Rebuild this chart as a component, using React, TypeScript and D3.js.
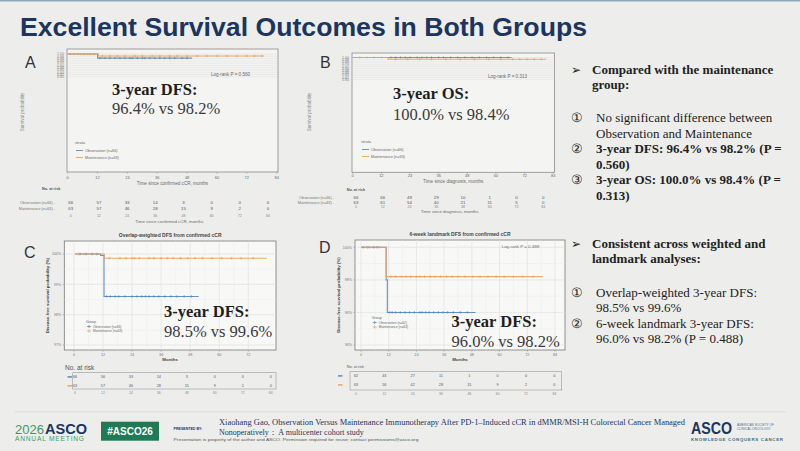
import * as React from 'react';
import * as d3 from 'd3';

type Pt = [number, number];

// ---- data ----
const monthTicks = [0, 12, 24, 36, 48, 60, 72, 84];
const groupNames = ['Observation (n=66)', 'Maintenance (n=63)'];
const groupNamesD = ['Observation (n=62)', 'Maintenance (n=63)'];

// A: DFS from confirmed cCR
const kmAObs: Pt[] = [[0, 1], [12, 0.964], [50, 0.964]];
const kmAMaint: Pt[] = [[0, 1], [12.3, 0.982], [79, 0.982]];
const censorAObs = [13, 15, 17, 19, 21, 23, 25, 26, 28, 30, 31, 33, 35, 37, 39, 41, 43, 46, 48];
const censorAMaint = [1, 2.5, 4, 5, 6.5, 8, 9, 10.5, 14, 17, 20, 23, 27, 30, 34, 37, 41, 44, 48, 52, 56, 60, 64, 68, 72, 75, 78];
const riskAObs = [66, 57, 33, 14, 3, 0, 0, 0];
const riskAMaint = [63, 57, 46, 28, 15, 9, 2, 0];

// B: OS from diagnosis
const kmBObs: Pt[] = [[0, 1], [66.5, 1]];
const kmBMaint: Pt[] = [[0, 1], [14.8, 0.984], [81, 0.984]];
const censorBObs = [16, 18, 20, 22, 24, 27, 29, 31, 33, 36, 38, 41, 44, 47, 50, 53, 56, 59, 62, 65];
const censorBMaint = [3, 6, 9, 12, 18, 23, 28, 33, 39, 45, 51, 57, 62, 67, 70, 73, 76, 79];
const riskBObs = [66, 66, 49, 29, 10, 1, 0, 0];
const riskBMaint = [63, 61, 54, 40, 21, 11, 5, 0];

// C: overlap-weighted DFS
const kmCObs: Pt[] = [[0.4, 1], [11, 0.9995], [12.4, 0.986], [51.5, 0.986]];
const kmCMaint: Pt[] = [[0.4, 1], [12.5, 0.9986], [79.6, 0.9986]];
const censorCObs = [2.5, 5, 7.5, 9.5, 13.5, 15, 17, 18.5, 21, 24, 26, 28, 29.5, 31, 33, 35, 37.5, 40, 42.5, 45.5, 48.5];
const censorCMaint = [2, 4, 14.5, 19, 21.5, 24, 25, 27, 31, 33, 36, 38.5, 41, 44, 47, 50, 53, 57, 61, 65, 69, 74];
const riskCObs = [66, 56, 33, 14, 3, 0, 0, 0];
const riskCMaint = [63, 57, 46, 28, 15, 9, 2, 0];
const yTicksC = [0.97, 0.98, 0.99, 1.0];

// D: 6-week landmark DFS
const kmDObs: Pt[] = [[0, 1], [10.9, 0.98], [11.4, 0.96], [49.6, 0.96]];
const kmDMaint: Pt[] = [[0, 1], [10.9, 0.982], [78.7, 0.982]];
const censorDObs = [1, 3, 5.5, 7, 12.5, 13.5, 15, 17, 19, 21, 23, 25.5, 26.5, 28, 29.5, 31.5, 33.5, 35.5, 37.5, 40, 43, 46];
const censorDMaint = [2.5, 4, 8, 13, 15, 17.5, 19.5, 21.5, 24, 25.5, 27.5, 30, 32, 34.5, 37, 39.5, 42, 45, 48.5, 51.5, 55, 58.5, 62, 66, 70, 74.5];
const riskDObs = [62, 43, 27, 11, 1, 0, 0, 0];
const riskDMaint = [63, 56, 42, 28, 15, 9, 2, 0];
const yTicksD = [0.94, 0.96, 0.98, 1.0];

const summaryA = ['3-year DFS:', '96.4% vs 98.2%'];
const summaryB = ['3-year OS:', '100.0% vs 98.4%'];
const summaryC = ['3-year DFS:', '98.5% vs 99.6%'];
const summaryD = ['3-year DFS:', '96.0% vs 98.2%'];

const bullets1 = [
  {mark: '➢', lines: ['Compared with the maintenance', 'group:'], bold: true},
  {mark: '①', lines: ['No significant difference between', 'Observation and Maintenance'], bold: false},
  {mark: '②', lines: ['3-year DFS: 96.4% vs 98.2% (P =', '0.560)'], bold: true},
  {mark: '③', lines: ['3-year OS: 100.0% vs 98.4% (P =', '0.313)'], bold: true},
];
const bullets2 = [
  {mark: '➢', lines: ['Consistent across weighted and', 'landmark analyses:'], bold: true},
  {mark: '①', lines: ['Overlap-weighted 3-year DFS:', '98.5% vs 99.6%'], bold: false},
  {mark: '②', lines: ['6-week landmark 3-year DFS:', '96.0% vs 98.2% (P = 0.488)'], bold: false},
];

// ---- styling ----
const BG = '#edeeec';
const BLUE = '#4f86c6';
const TEAL = '#5a8fb0';
const ORANGE = '#e6a25f';
const NAVY = '#1b3560';
const GREEN = '#1f7a55';
const SANS = 'Liberation Sans, Arial, sans-serif';
const SERIF = 'Liberation Serif, Times New Roman, serif';
const GRAY = '#6a6a6a';

type Lin = d3.ScaleLinear<number, number>;

const survAt = (pts: Pt[], t: number) => {
  let s = pts[0][1];
  pts.forEach(p => { if (p[0] <= t) s = p[1]; });
  return s;
};

const Curve = ({pts, censor, color, x, y, m}: {pts: Pt[], censor: number[], color: string, x: Lin, y: Lin, m: number}) => {
  const line = d3.line<Pt>().x(d => x(d[0])).y(d => y(d[1])).curve(d3.curveStepAfter);
  return (
    <g>
      <path d={line(pts) || ''} fill="none" stroke={color} strokeWidth={1.1} strokeOpacity={0.9}/>
      {censor.map((t, i) => {
        const cx = x(t), cy = y(survAt(pts, t));
        return <path key={i} d={`M${cx},${cy - m}v${2 * m}M${cx - m},${cy}h${2 * m}`} stroke={color} strokeWidth={0.6}/>;
      })}
    </g>
  );
};

const Headline = ({lines, x, y1, y2}: {lines: string[], x: number, y1: number, y2: number}) => (
  <g fontFamily={SERIF} fontSize={16.5}>
    <text x={x} y={y1} fontWeight="bold" fill="#1e1e1e">{lines[0]}</text>
    <text x={x} y={y2} fill="#3a3a3a">{lines[1]}</text>
  </g>
);

// survminer-style panels (A and B)
const StrataPanel = (p: {
  letter: string, lx: number, frame: number[], x: Lin, y: Lin,
  obs: Pt[], maint: Pt[], cObs: number[], cMaint: number[],
  pText: string, px: number, py: number, summary: string[], sx: number, sy1: number, sy2: number,
  legX: number, legY: number, xTitle: string, tickDy: number, xTitleY: number, yTitleX: number,
  riskX: Lin, rObs: number[], rMaint: number[], rLabelX: number, rY: number[], noX: number, noY: number,
}) => {
  const [fx0, fy0, fx1, fy1] = p.frame;
  const gridTicks = p.y.ticks(50).filter(t => t >= 0.8);
  const cx = (fx0 + fx1) / 2;
  return (
    <g fontFamily={SANS}>
      <text x={p.lx} y={68} fontSize={16} fill="#333">{p.letter}</text>
      <rect x={fx0} y={fy0} width={fx1 - fx0} height={fy1 - fy0} fill="#f4f4f2" stroke="#8a8a8a" strokeWidth={0.8}/>
      {gridTicks.map(t => (
        <g key={t}>
          <line x1={fx0} x2={fx1} y1={p.y(t)} y2={p.y(t)} stroke="#d6d6d6" strokeWidth={0.4}/>
          <text x={fx0 - 3} y={p.y(t) + 1.3} fontSize={3.6} textAnchor="end" fill="#888">{t.toFixed(2)}</text>
        </g>
      ))}
      {monthTicks.map(t => (
        <g key={t}>
          <line x1={p.x(t)} x2={p.x(t)} y1={fy1} y2={fy1 + 1.5} stroke="#888" strokeWidth={0.5}/>
          <text x={p.x(t)} y={fy1 + p.tickDy} fontSize={4} textAnchor="middle" fill={GRAY}>{t}</text>
        </g>
      ))}
      <text x={cx} y={p.xTitleY} fontSize={4.6} textAnchor="middle" fill={GRAY}>{p.xTitle}</text>
      <text transform={`translate(${p.yTitleX},112) rotate(-90)`} fontSize={4.6} textAnchor="middle" fill="#888">Survival probability</text>
      <Curve pts={p.obs} censor={p.cObs} color={TEAL} x={p.x} y={p.y} m={1.2}/>
      <Curve pts={p.maint} censor={p.cMaint} color={ORANGE} x={p.x} y={p.y} m={1.2}/>
      <text x={p.px} y={p.py} fontSize={4.6} fill={GRAY}>{p.pText}</text>
      <Headline lines={p.summary} x={p.sx} y1={p.sy1} y2={p.sy2}/>
      <text x={p.legX} y={p.legY} fontSize={4} fill={GRAY}>strata</text>
      {[TEAL, ORANGE].map((c, i) => (
        <g key={c}>
          <line x1={p.legX + 1} x2={p.legX + 8} y1={p.legY + 6.5 + i * 7} y2={p.legY + 6.5 + i * 7} stroke={c} strokeWidth={0.9}/>
          <text x={p.legX + 10} y={p.legY + 8 + i * 7} fontSize={3.8} fill={GRAY}>{groupNames[i]}</text>
        </g>
      ))}
      <text x={p.noX} y={p.noY} fontSize={3.8} fontWeight="bold" fill="#555">No. at risk</text>
      {[p.rObs, p.rMaint].map((row, i) => (
        <g key={i} fontSize={4.4} fill="#555">
          <text x={p.rLabelX} y={p.rY[i]} textAnchor="end" fontSize={3.8} fill="#777">{groupNames[i]} -</text>
          {row.map((v, j) => <text key={j} x={p.riskX(monthTicks[j])} y={p.rY[i]} textAnchor="middle">{v}</text>)}
        </g>
      ))}
      {monthTicks.map(t => <text key={t} x={p.riskX(t)} y={p.rY[2]} fontSize={3.6} textAnchor="middle" fill="#888">{t}</text>)}
      <text x={(p.riskX(0) + p.riskX(84)) / 2} y={p.rY[3]} fontSize={4.4} textAnchor="middle" fill={GRAY}>{p.xTitle}</text>
    </g>
  );
};

// ggplot-style panels (C and D)
const GGPanel = (p: {
  letter: string, lx: number, ly: number, title: string, frame: number[], x: Lin, y: Lin, xTicks: number[], yTicks: number[],
  obs: Pt[], maint: Pt[], cObs: number[], cMaint: number[], pText?: string, px?: number, py?: number,
  summary: string[], sx: number, sy1: number, sy2: number, legX: number, legY: number, names: string[],
  riskX: Lin, rObs: number[], rMaint: number[], riskBox: number[], noX: number, noY: number, noSize: number, dashX: number,
}) => {
  const [fx0, fy0, fx1, fy1] = p.frame;
  const cx = (fx0 + fx1) / 2;
  const minorX = p.xTicks.slice(0, -1).map((t, i) => (t + p.xTicks[i + 1]) / 2);
  const minorY = p.yTicks.slice(0, -1).map((t, i) => (t + p.yTicks[i + 1]) / 2);
  const [bx0, by0, bx1, by1] = p.riskBox;
  const rowY = [by0 + 5.5, by0 + 14.5];
  return (
    <g fontFamily={SANS}>
      <text x={p.lx} y={p.ly} fontSize={16} fill="#333">{p.letter}</text>
      <text x={cx} y={fy0 - 4} fontSize={5} fontWeight="bold" textAnchor="middle" fill="#444">{p.title}</text>
      <rect x={fx0} y={fy0} width={fx1 - fx0} height={fy1 - fy0} fill="#f8f8f7" stroke="#777" strokeWidth={0.8}/>
      {minorX.map(t => <line key={t} x1={p.x(t)} x2={p.x(t)} y1={fy0} y2={fy1} stroke="#ececec" strokeWidth={0.4}/>)}
      {minorY.map(t => <line key={t} x1={fx0} x2={fx1} y1={p.y(t)} y2={p.y(t)} stroke="#ececec" strokeWidth={0.4}/>)}
      {p.xTicks.map(t => (
        <g key={t}>
          <line x1={p.x(t)} x2={p.x(t)} y1={fy0} y2={fy1} stroke="#dedede" strokeWidth={0.6}/>
          <line x1={p.x(t)} x2={p.x(t)} y1={fy1} y2={fy1 + 1.5} stroke="#777" strokeWidth={0.5}/>
          <text x={p.x(t)} y={fy1 + 5.5} fontSize={3.8} textAnchor="middle" fill="#777">{t}</text>
        </g>
      ))}
      {p.yTicks.map(t => (
        <g key={t}>
          <line x1={fx0} x2={fx1} y1={p.y(t)} y2={p.y(t)} stroke="#dedede" strokeWidth={0.6}/>
          <line x1={fx0 - 1.5} x2={fx0} y1={p.y(t)} y2={p.y(t)} stroke="#777" strokeWidth={0.5}/>
          <text x={fx0 - 3} y={p.y(t) + 1.3} fontSize={3.6} textAnchor="end" fill="#777">{d3.format('.0%')(t)}</text>
        </g>
      ))}
      <text x={cx} y={fy1 + 11} fontSize={4.4} fontWeight="bold" textAnchor="middle" fill="#444">Months</text>
      <text transform={`translate(${fx0 - 15},${(fy0 + fy1) / 2}) rotate(-90)`} fontSize={4.4} fontWeight="bold" textAnchor="middle" fill="#444">Disease-free survival probability (%)</text>
      <Curve pts={p.obs} censor={p.cObs} color={BLUE} x={p.x} y={p.y} m={1.3}/>
      <Curve pts={p.maint} censor={p.cMaint} color={ORANGE} x={p.x} y={p.y} m={1.3}/>
      {p.pText && <text x={p.px} y={p.py} fontSize={4.4} fill={GRAY}>{p.pText}</text>}
      <text x={p.legX} y={p.legY} fontSize={3.6} fill="#666">Group</text>
      {[BLUE, ORANGE].map((c, i) => (
        <g key={c}>
          <path d={`M${p.legX + 1},${p.legY + 4 + i * 4.5}h4M${p.legX + 3},${p.legY + 2.5 + i * 4.5}v3`} stroke={c} strokeWidth={0.7}/>
          <text x={p.legX + 7} y={p.legY + 5.2 + i * 4.5} fontSize={3.3} fill="#666">{p.names[i]}</text>
        </g>
      ))}
      <Headline lines={p.summary} x={p.sx} y1={p.sy1} y2={p.sy2}/>
      <text x={p.noX} y={p.noY} fontSize={p.noSize} fill="#555">No. at risk</text>
      <rect x={bx0} y={by0} width={bx1 - bx0} height={by1 - by0} fill="none" stroke="#999" strokeWidth={0.6}/>
      {[p.rObs, p.rMaint].map((row, i) => (
        <g key={i} fontSize={3.8} fill="#555">
          <line x1={p.dashX} x2={p.dashX + 4.5} y1={rowY[i] - 1.3} y2={rowY[i] - 1.3} stroke={i ? ORANGE : BLUE} strokeWidth={1.4}/>
          {row.map((v, j) => <text key={j} x={p.riskX(monthTicks[j])} y={rowY[i]} textAnchor="middle">{v}</text>)}
        </g>
      ))}
      {monthTicks.map(t => <text key={t} x={p.riskX(t)} y={by1 + 5} fontSize={3.4} textAnchor="middle" fill="#888">{t}</text>)}
    </g>
  );
};

const Bullets = ({items, y0, gaps}: {items: typeof bullets1, y0: number, gaps: number[]}) => {
  let y = y0;
  return (
    <g fontFamily={SERIF} fontSize={13} fill="#222">
      {items.map((it, i) => {
        y += gaps[i];
        const yy = y;
        y += 15.5 * (it.lines.length - 1);
        const arrow = it.mark === '➢';
        return (
          <g key={i} fontWeight={it.bold ? 'bold' : 'normal'}>
            <text x={arrow ? 571 : 571} y={yy} fontSize={arrow ? 12 : 13} fontWeight={arrow ? 'bold' : 'normal'} fontFamily={arrow ? 'DejaVu Sans' : SERIF}>{it.mark}</text>
            {it.lines.map((l, j) => <text key={j} x={arrow ? 592 : 596} y={yy + j * 15.5}>{l}</text>)}
          </g>
        );
      })}
    </g>
  );
};

export default function App() {
  const xA = d3.scaleLinear().domain([0, 84]).range([67.7, 276.7]);
  const yA = d3.scaleLinear().domain([0, 1]).range([168, 54]);
  const rA = d3.scaleLinear().domain([0, 84]).range([70.7, 268]);

  const xB = d3.scaleLinear().domain([0, 84]).range([352.7, 553.3]);
  const yB = d3.scaleLinear().domain([0, 1]).range([168, 57.5]);
  const rB = d3.scaleLinear().domain([0, 84]).range([356, 543.3]);

  const xC = d3.scaleLinear().domain([0, 72]).range([74, 248.3]);
  const yC = d3.scaleLinear().domain([0.97, 1]).range([345, 254]);
  const rC = d3.scaleLinear().domain([0, 84]).range([75, 270.7]);

  const xD = d3.scaleLinear().domain([0, 84]).range([361, 555]);
  const yD = d3.scaleLinear().domain([0.94, 1]).range([345, 247.3]);
  const rD = d3.scaleLinear().domain([0, 84]).range([356, 554.3]);

  return (
    <svg width={800} height={451} viewBox="0 0 800 451" style={{position: 'absolute', left: 0, top: 0, background: BG}}>
      <rect x={0} y={0} width={800} height={451} fill={BG}/>
      <rect x={0} y={0} width={800} height={1.5} fill="#8ea7b8"/>
      <text x={20} y={36} fontFamily={SANS} fontWeight="bold" fontSize={26} fill={NAVY} textLength={567} lengthAdjust="spacingAndGlyphs">Excellent Survival Outcomes in Both Groups</text>

      <StrataPanel letter="A" lx={25} frame={[67, 49, 278, 172]} x={xA} y={yA}
        obs={kmAObs} maint={kmAMaint} cObs={censorAObs} cMaint={censorAMaint}
        pText="Log-rank P = 0.560" px={211} py={76} summary={summaryA} sx={112} sy1={95} sy2={114}
        legX={75} legY={144} xTitle="Time since confirmed cCR, months" tickDy={6.5} xTitleY={185} yTitleX={24}
        riskX={rA} rObs={riskAObs} rMaint={riskAMaint} rLabelX={55} rY={[204, 210, 216.5, 223]} noX={42} noY={190}/>

      <StrataPanel letter="B" lx={320} frame={[352, 53, 554.5, 172.3]} x={xB} y={yB}
        obs={kmBObs} maint={kmBMaint} cObs={censorBObs} cMaint={censorBMaint}
        pText="Log-rank P = 0.313" px={488} py={78} summary={summaryB} sx={393} sy1={99} sy2={120}
        legX={361} legY={143} xTitle="Time since diagnosis, months" tickDy={4.8} xTitleY={182.5} yTitleX={311}
        riskX={rB} rObs={riskBObs} rMaint={riskBMaint} rLabelX={334} rY={[198.5, 203.5, 208, 212.5]} noX={346.7} noY={191}/>

      <GGPanel letter="C" lx={24} ly={258} title="Overlap-weighted DFS from confirmed cCR" frame={[64.3, 241, 276, 350]}
        x={xC} y={yC} xTicks={[0, 12, 24, 36, 48, 60, 72]} yTicks={yTicksC}
        obs={kmCObs} maint={kmCMaint} cObs={censorCObs} cMaint={censorCMaint}
        summary={summaryC} sx={164} sy1={316.5} sy2={336.5} legX={86} legY={322.5} names={groupNames}
        riskX={rC} rObs={riskCObs} rMaint={riskCMaint} riskBox={[72.7, 372.7, 276, 389]} noX={65} noY={370} noSize={6.5} dashX={67.5}/>

      <GGPanel letter="D" lx={319} ly={253} title="6-week landmark DFS from confirmed cCR" frame={[355, 240, 565, 350]}
        x={xD} y={yD} xTicks={monthTicks} yTicks={yTicksD}
        obs={kmDObs} maint={kmDMaint} cObs={censorDObs} cMaint={censorDMaint}
        pText="Log-rank P = 0.488" px={501.7} py={247.5}
        summary={summaryD} sx={451.5} sy1={327} sy2={347} legX={371.7} legY={318.5} names={groupNamesD}
        riskX={rD} rObs={riskDObs} rMaint={riskDMaint} riskBox={[350, 371.7, 561.7, 390]} noX={346.7} noY={368} noSize={3.8} dashX={338}/>

      <Bullets items={bullets1} y0={73.5} gaps={[0, 33, 15.5, 15.5]}/>
      <Bullets items={bullets2} y0={247.5} gaps={[0, 33.5, 15.5]}/>

      {/* footer */}
      <line x1={15} x2={786} y1={411.7} y2={411.7} stroke="#d9d9d7" strokeWidth={0.8}/>
      <g fontFamily={SANS}>
        <text x={15} y={433.5} fontSize={13} fill="#3d9a5f">2026</text>
        <text x={45} y={433.5} fontSize={15} fontWeight="bold" fill={NAVY} textLength={42} lengthAdjust="spacingAndGlyphs">ASCO</text>
        <text x={15} y={440.5} fontSize={6.6} fill="#3d9a5f" textLength={69} lengthAdjust="spacing">ANNUAL MEETING</text>
        <rect x={101} y={421.7} width={58} height={19} fill={GREEN}/>
        <text x={130} y={434.8} fontSize={10} fontWeight="bold" fill="#fff" textAnchor="middle">#ASCO26</text>
        <text x={173.5} y={430} fontSize={3.6} fontWeight="bold" fill={NAVY}>PRESENTED BY:</text>
        <text x={173.5} y={440.5} fontSize={3.6} fill="#555" textLength={245} lengthAdjust="spacingAndGlyphs">Presentation is property of the author and ASCO. Permission required for reuse; contact permissions@asco.org</text>
        <text x={691} y={434} fontSize={17} fontWeight="bold" fill={NAVY} textLength={41} lengthAdjust="spacingAndGlyphs">ASCO</text>
        <text x={737} y={425.5} fontSize={3.2} fill="#5a6e88">AMERICAN SOCIETY OF</text>
        <text x={737} y={429.5} fontSize={3.2} fill="#5a6e88">CLINICAL ONCOLOGY</text>
        <text x={691} y={440.5} fontSize={4.4} fontWeight="bold" fill="#2d6f8a" textLength={92} lengthAdjust="spacing">KNOWLEDGE CONQUERS CANCER</text>
      </g>
      <g fontFamily={SERIF} fill={NAVY} fontSize={8}>
        <text x={219} y={424.5} textLength={466} lengthAdjust="spacingAndGlyphs">Xiaohang Gao, Observation Versus Maintenance Immunotherapy After PD-1–Induced cCR in dMMR/MSI-H Colorectal Cancer Managed</text>
        <text x={219} y={434.5}>Nonoperatively： A multicenter cohort study</text>
      </g>
    </svg>
  );
}
